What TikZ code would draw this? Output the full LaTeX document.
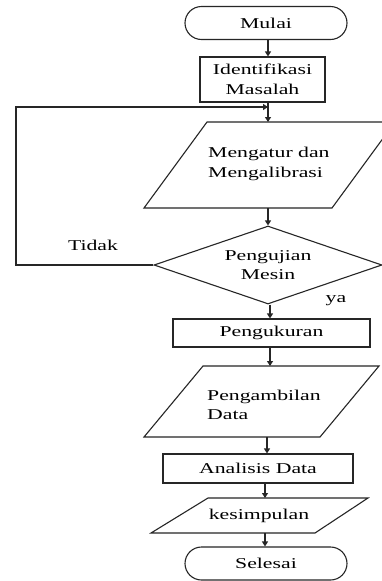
\documentclass[tikz,border=0pt]{standalone}
\usepackage{fontspec}
\setmainfont{Liberation Serif}
\newfontfamily\wideserif[FakeStretch=1.45]{Liberation Serif}
\usetikzlibrary{arrows.meta,shapes.geometric,shapes.misc}
\tikzset{
  ln/.style={draw=black!85, line width=1.1pt},
  arr/.style={ln, -{Triangle[length=5pt,width=6pt]}},
  txt/.style={font=\wideserif\fontsize{15}{19.5}\selectfont, inner sep=0pt},
  terminal/.style={ln, txt, rounded rectangle, minimum height=33pt},
  procbox/.style={ln, txt, rectangle, align=center},
  decision/.style={ln, txt, diamond, align=center, minimum width=228pt, minimum height=78pt, aspect=2.9},
}
\begin{document}
\begin{tikzpicture}[x=1pt,y=-1pt]
\useasboundingbox (0,0) rectangle (382,581);
\clip (0,0) rectangle (382,581);
\fill[white] (0,0) rectangle (382,581);

% spine columns
\coordinate (c1) at (268,0);
\coordinate (c2) at (270,0);
\coordinate (c3) at (267,0);
\coordinate (c4) at (265,0);

% nodes
\node[terminal, minimum width=162pt] (mulai) at (266,23) {Mulai};
\node[procbox, minimum width=125pt, minimum height=45pt] (ident) at (262.5,79.5) {Identifikasi\\Masalah};

% parallelogram 1
\draw[ln] (207,122) -- (395,122) -- (332,208) -- (144,208) -- cycle;
\coordinate (p1top) at (268,122);
\coordinate (p1bot) at (268,208);
\node[txt, align=left, anchor=west] (p1txt) at (208,164) {Mengatur dan\\Mengalibrasi};

\node[decision] (dec) at (268,265) {Pengujian\\Mesin};
\node[txt, font=\wideserif\fontsize{15}{18}\selectfont] (tidak) at (93,245) {Tidak};
\node[txt, font=\wideserif\fontsize{15}{18}\selectfont] (ya) at (336,301) {ya};

\node[procbox, minimum width=197pt, minimum height=28pt] (ukur) at (271.5,333) {Pengukuran};

% parallelogram 2
\draw[ln] (203,366) -- (379,366) -- (320,437) -- (144,437) -- cycle;
\coordinate (p2top) at (270,366);
\coordinate (p2bot) at (267,437);
\node[txt, align=left, anchor=west] (p2txt) at (207,405) {Pengambilan\\Data};

\node[procbox, minimum width=190pt, minimum height=29pt] (anal) at (258,468.5) {Analisis Data};

% parallelogram 3
\draw[ln] (208,498) -- (368,498) -- (315,533) -- (151,533) -- cycle;
\coordinate (p3top) at (265,498);
\coordinate (p3bot) at (265,533);
\node[txt] (p3txt) at (259,516) {kesimpulan};

\node[terminal, minimum width=162pt] (selesai) at (266,563.5) {Selesai};

% connectors
\draw[arr] (mulai.south -| c1) -- (ident.north -| c1);
\draw[arr] (ident.south -| c1) -- (p1top);
\draw[arr] (p1bot) -- (dec.north -| c1);
\draw[arr] (dec.south -| c2) -- (ukur.north -| c2);
\draw[arr] (ukur.south -| c2) -- (p2top);
\draw[arr] (p2bot) -- (anal.north -| c3);
\draw[arr] (anal.south -| c4) -- (p3top);
\draw[arr] (p3bot) -- (selesai.north -| c4);

% feedback loop
\coordinate (lft) at (16,265);
\coordinate (join) at (268,107);
\draw[arr] (dec.west) -- (lft) |- (join);
\end{tikzpicture}
\end{document}
